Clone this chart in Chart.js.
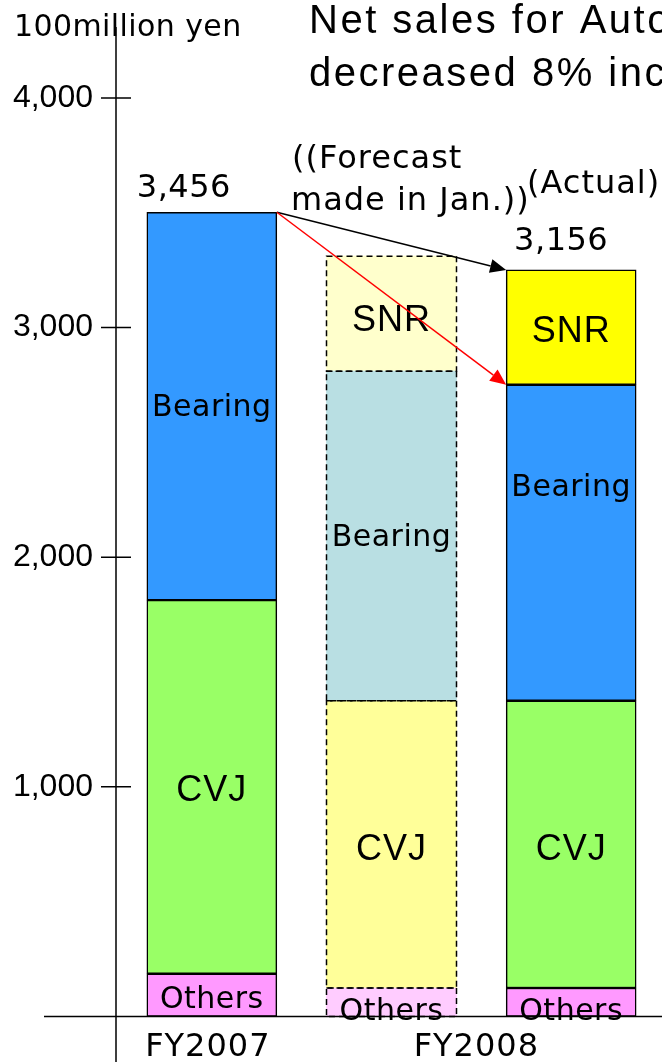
<!DOCTYPE html>
<html>
<head>
<meta charset="utf-8">
<script src="https://cdn.jsdelivr.net/npm/chart.js@4.4.0/dist/chart.umd.min.js"></script>
<style>
  html, body { margin: 0; padding: 0; background: #fff; }
  canvas { display: block; }
</style>
</head>
<body>
<canvas id="salesChart" width="662" height="1062"></canvas>
<script>
// data (100 million yen)
const categories = ['FY2007', 'FY2008 forecast', 'FY2008 actual'];
const others  = [186, 124, 124];
const cvj     = [1627, 1251, 1251];
const bearing = [1689, 1435, 1376];
const snr     = [null, 501, 500];
const totalLabels = ['3,456', '', '3,156'];
const yTicks = [1000, 2000, 3000, 4000];
const axisLabels = ['FY2007', 'FY2008'];

const comic = '"Comic Sans MS", "DejaVu Sans", sans-serif';
const arial = '"Liberation Sans", Arial, sans-serif';

// solid colour for actuals, pale colour for the forecast bar
function cols(solid, pale) { return [solid, pale, solid]; }

const decorate = {
  id: 'decorate',
  afterDatasetsDraw(chart) {
    const ctx = chart.ctx;
    const ys = chart.scales.y;
    const metas = chart.data.datasets.map((d, i) => chart.getDatasetMeta(i));

    // dashed outline on the forecast bar
    ctx.save();
    ctx.setLineDash([6, 4]);
    ctx.lineWidth = 1.5;
    ctx.strokeStyle = '#000';
    metas.forEach(m => {
      const el = m.data[1];
      if (!el || el.skip) return;
      const p = el.getProps(['x', 'y', 'base', 'width'], true);
      ctx.strokeRect(p.x - p.width / 2, p.y, p.width, p.base - p.y);
    });
    ctx.restore();

    // segment names
    const nudge = { Others: [5, 10, 10], CVJ: [4, 6, 6], Bearing: [2, 2, -55], SNR: [0, 7, 5] };
    ctx.save();
    ctx.fillStyle = '#000';
    ctx.textAlign = 'center';
    ctx.textBaseline = 'middle';
    chart.data.datasets.forEach((ds, i) => {
      const arialLike = ds.label === 'CVJ' || ds.label === 'SNR';
      ctx.font = arialLike ? '36px ' + arial : '30px ' + comic;
      ctx.letterSpacing = arialLike ? '1px' : '0.5px';
      metas[i].data.forEach((el, j) => {
        if (ds.data[j] == null) return;
        const p = el.getProps(['x', 'y', 'base'], true);
        ctx.fillText(ds.label, p.x, (p.y + p.base) / 2 + nudge[ds.label][j]);
      });
    });

    // totals above bars
    ctx.letterSpacing = '0.5px';
    ctx.font = '32px ' + comic;
    ctx.textBaseline = 'alphabetic';
    const stackTop = j => {
      let s = 0;
      chart.data.datasets.forEach(ds => { s += ds.data[j] || 0; });
      return ys.getPixelForValue(s);
    };
    const x0 = metas[0].data[0].getProps(['x', 'width'], true);
    const x2 = metas[0].data[2].getProps(['x', 'width'], true);
    ctx.fillText(totalLabels[0], x0.x - 28, stackTop(0) - 15);
    ctx.fillText(totalLabels[2], x2.x - 10, stackTop(2) - 20);

    ctx.textAlign = 'left';
    ctx.font = '32px ' + comic;
    ctx.letterSpacing = '1px';
    ctx.fillText('((Forecast', 292, 168);
    ctx.fillText('made in Jan.))', 291, 210);
    ctx.fillText('(Actual)', 527, 193);
    ctx.restore();

    // arrows from FY2007 total to the actual bar
    const from = { x: x0.x + x0.width / 2, y: stackTop(0) };
    const snrTop = metas[3].data[2].getProps(['y'], true).y;
    const bearTop = metas[2].data[2].getProps(['y'], true).y;
    arrow(ctx, from, { x: x2.x - x2.width / 2, y: snrTop }, '#000');
    arrow(ctx, from, { x: x2.x - x2.width / 2, y: bearTop }, '#ff0000');
  },
  afterDraw(chart) {
    const ctx = chart.ctx;
    const ys = chart.scales.y;
    const base = ys.getPixelForValue(0);
    ctx.save();
    ctx.strokeStyle = '#000';
    ctx.lineWidth = 1.5;
    ctx.beginPath();
    ctx.moveTo(116, 27); ctx.lineTo(116, chart.height);
    ctx.moveTo(44, base); ctx.lineTo(chart.width, base);
    yTicks.forEach(v => {
      const py = ys.getPixelForValue(v);
      ctx.moveTo(101, py); ctx.lineTo(131, py);
    });
    ctx.stroke();

    // x axis labels
    const metas = chart.getDatasetMeta(0).data;
    ctx.fillStyle = '#000';
    ctx.font = '32px ' + comic;
    ctx.letterSpacing = '1px';
    ctx.textAlign = 'center';
    ctx.textBaseline = 'middle';
    ctx.fillText(axisLabels[0], metas[0].x - 4, base + 31);
    ctx.fillText(axisLabels[1], (metas[1].x + metas[2].x) / 2 - 5, base + 31);

    // unit and title
    ctx.textAlign = 'left';
    ctx.textBaseline = 'alphabetic';
    ctx.font = '30px ' + comic;
    ctx.letterSpacing = '0.4px';
    ctx.fillText('100million yen', 14, 36);
    ctx.font = '40px ' + arial;
    ctx.letterSpacing = '2.5px';
    ctx.fillText('Net sales for Automotive', 309, 33);
    ctx.fillText('decreased 8% including SNR', 309, 86);
    ctx.restore();
  }
};

function arrow(ctx, a, b, color) {
  const ang = Math.atan2(b.y - a.y, b.x - a.x);
  const len = 16, half = 7;
  const bx = b.x - len * Math.cos(ang), by = b.y - len * Math.sin(ang);
  ctx.save();
  ctx.strokeStyle = color;
  ctx.fillStyle = color;
  ctx.lineWidth = 1.5;
  ctx.beginPath();
  ctx.moveTo(a.x, a.y);
  ctx.lineTo(bx, by);
  ctx.stroke();
  ctx.beginPath();
  ctx.moveTo(b.x, b.y);
  ctx.lineTo(bx + half * Math.sin(ang), by - half * Math.cos(ang));
  ctx.lineTo(bx - half * Math.sin(ang), by + half * Math.cos(ang));
  ctx.closePath();
  ctx.fill();
  ctx.restore();
}

new Chart(document.getElementById('salesChart'), {
  type: 'bar',
  data: {
    labels: categories,
    datasets: [
      { label: 'Others',  data: others,  backgroundColor: cols('#ff99ff', '#ffccff') },
      { label: 'CVJ',     data: cvj,     backgroundColor: cols('#99ff66', '#ffff99') },
      { label: 'Bearing', data: bearing, backgroundColor: cols('#3399ff', '#b9dfe3') },
      { label: 'SNR',     data: snr,     backgroundColor: cols('#ffff00', '#ffffcc') }
    ].map(d => Object.assign(d, {
      borderColor: '#000',
      borderWidth: [1.5, 0, 1.5],
      borderSkipped: false,
      barThickness: 130
    }))
  },
  options: {
    responsive: false,
    animation: false,
    layout: { padding: { top: 29, bottom: 45.5, right: 1, left: 0 } },
    plugins: { legend: { display: false }, tooltip: { enabled: false } },
    scales: {
      x: { stacked: true, display: false, offset: true },
      y: {
        stacked: true,
        min: 0,
        max: 4300,
        afterBuildTicks: s => { s.ticks = yTicks.map(v => ({ value: v })); },
        afterFit: s => { s.width = 122; s.paddingTop = 0; s.paddingBottom = 0; },
        grid: { display: false },
        border: { display: false },
        ticks: {
          color: '#000',
          padding: 21,
          font: { family: arial, size: 32 },
          callback: v => v.toLocaleString('en-US')
        }
      }
    }
  },
  plugins: [decorate]
});
</script>
</body>
</html>
